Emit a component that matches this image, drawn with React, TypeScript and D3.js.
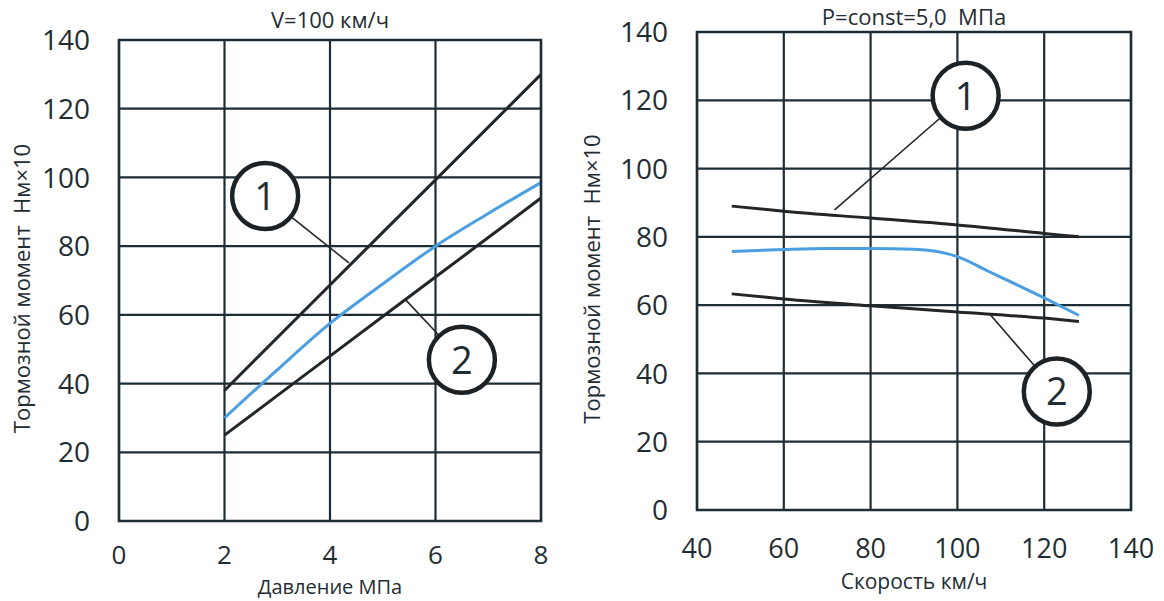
import * as d3 from 'd3';
import React from 'react';

// left panel: torque vs pressure at V=100 km/h
const pressureTicks = [0, 2, 4, 6, 8];
const pressureLine = [2, 4, 6, 8];
const leftCurve1 = [38, 68.7, 99.3, 130];
const leftCurve2 = [25, 48, 71, 94];
const pressureBlue = [2, 3, 4, 5, 6, 7, 8];
const leftBlue = [30, 44, 57.5, 69, 80, 89.5, 98.5];

// right panel: torque vs speed at P=5.0 MPa
const speedTicks = [40, 60, 80, 100, 120, 140];
const speedLine = [48, 60, 80, 100, 120, 128];
const rightCurve1 = [89, 87.5, 85.5, 83.5, 81, 80];
const rightCurve2 = [63.3, 61.8, 59.8, 58, 56.2, 55.2];
const speedBlue = [48, 60, 70, 80, 90, 95, 100, 107, 114, 120, 128];
const rightBlue = [75.7, 76.3, 76.6, 76.6, 76.4, 75.8, 74.2, 70, 65.8, 62.1, 57];

const torqueTicks = [0, 20, 40, 60, 80, 100, 120, 140];

// callouts: [label, circle x, circle y, target x, target y] in data units
const leftCallouts: [string, number, number, number, number][] = [
  ['1', 2.77, 94.6, 4.36, 75.1],
  ['2', 6.5, 46.9, 5.44, 64.3],
];
const rightCallouts: [string, number, number, number, number][] = [
  ['1', 101.9, 121.3, 71.7, 87.9],
  ['2', 122.9, 34.7, 107.3, 57.6],
];

const FONT = "'Open Sans', sans-serif";
const GRID = '#1e2d35';
const TEXT = '#1f2d33';
const BLUE = '#4b9fe1';

type PanelProps = {
  xTicks: number[];
  xDomain: [number, number];
  xRange: [number, number];
  yRange: [number, number];
  title: string;
  titleY: number;
  xTitle: string;
  xTitleY: number;
  xTitleSize: number;
  tickOffset: number;
  tickSize: number;
  yTitleX: number;
  black: { x: number[]; y: number[] }[];
  blue: { x: number[]; y: number[] };
  callouts: [string, number, number, number, number][];
};

function Panel(p: PanelProps) {
  const x = d3.scaleLinear().domain(p.xDomain).range(p.xRange);
  const y = d3.scaleLinear().domain([0, 140]).range(p.yRange);
  const [x0, x1] = p.xRange;
  const [yb, yt] = p.yRange;
  const mk = (xs: number[], ys: number[]) =>
    d3.line<number>()
      .x((_, i) => x(xs[i]))
      .y((d) => y(d))
      .curve(d3.curveMonotoneX)(ys) || '';
  const cx = (x0 + x1) / 2;
  const r = 33;

  return (
    <g>
      {/* grid */}
      {p.xTicks.map((t) => (
        <line key={'v' + t} x1={x(t)} x2={x(t)} y1={yt} y2={yb} stroke={GRID} strokeWidth={2.2} />
      ))}
      {torqueTicks.map((t) => (
        <line key={'h' + t} x1={x0} x2={x1} y1={y(t)} y2={y(t)} stroke={GRID} strokeWidth={2.2} />
      ))}
      {/* tick labels */}
      {torqueTicks.map((t) => (
        <text key={'yl' + t} x={x0 - 29} y={y(t)} dy="0.36em" textAnchor="end" fontSize={28} fill={TEXT} fontFamily={FONT}>
          {t}
        </text>
      ))}
      {p.xTicks.map((t) => (
        <text key={'xl' + t} x={x(t)} y={yb + p.tickOffset} textAnchor="middle" fontSize={p.tickSize} fill={TEXT} fontFamily={FONT}>
          {t}
        </text>
      ))}
      {/* titles */}
      <text x={cx} y={p.titleY} textAnchor="middle" fontSize={22} fill={TEXT} fontFamily={FONT} style={{ whiteSpace: 'pre' }}>
        {p.title}
      </text>
      <text x={cx} y={p.xTitleY} textAnchor="middle" fontSize={p.xTitleSize} fill={TEXT} fontFamily={FONT}>{p.xTitle}</text>
      <text
        transform={`translate(${p.yTitleX},${(yb + yt) / 2 + 8}) rotate(-90)`}
        textAnchor="middle" dy="0.35em" fontSize={22} fill={TEXT} fontFamily={FONT} style={{ whiteSpace: 'pre' }}
      >
        {'Тормозной момент  Нм×10'}
      </text>
      {/* curves */}
      {p.black.map((c, i) => (
        <path key={'b' + i} d={mk(c.x, c.y)} fill="none" stroke="#222628" strokeWidth={3} />
      ))}
      <path d={mk(p.blue.x, p.blue.y)} fill="none" stroke={BLUE} strokeWidth={3} />
      {/* callouts */}
      {p.callouts.map(([label, ccx, ccy, tx, ty]) => {
        const px = x(ccx), py = y(ccy), qx = x(tx), qy = y(ty);
        const len = Math.hypot(qx - px, qy - py);
        const sx = px + ((qx - px) / len) * r;
        const sy = py + ((qy - py) / len) * r;
        return (
          <g key={'c' + label}>
            <line x1={sx} y1={sy} x2={qx} y2={qy} stroke="#222628" strokeWidth={1.6} />
            <circle cx={px} cy={py} r={r} fill="white" stroke="#1c2226" strokeWidth={4.5} />
            <text x={px} y={py} dy="0.36em" textAnchor="middle" fontSize={38} fill={TEXT} fontFamily={FONT}>{label}</text>
          </g>
        );
      })}
      {/* frame */}
      <rect x={x0} y={yt} width={x1 - x0} height={yb - yt} fill="none" stroke={GRID} strokeWidth={2.5} />
    </g>
  );
}

export default function App() {
  return (
    <div style={{ position: 'absolute', left: 0, top: 0, background: 'white' }}>
      <svg width={1164} height={601} viewBox="0 0 1164 601">
        <rect width={1164} height={601} fill="white" />
        <Panel
          xTicks={pressureTicks}
          xDomain={[0, 8]}
          xRange={[119, 541]}
          yRange={[521, 40]}
          title="V=100 км/ч"
          titleY={28}
          xTitle="Давление МПа"
          xTitleY={594}
          xTitleSize={20}
          tickOffset={43}
          tickSize={26}
          yTitleX={22}
          black={[{ x: pressureLine, y: leftCurve1 }, { x: pressureLine, y: leftCurve2 }]}
          blue={{ x: pressureBlue, y: leftBlue }}
          callouts={leftCallouts}
        />
        <Panel
          xTicks={speedTicks}
          xDomain={[40, 140]}
          xRange={[697, 1131]}
          yRange={[510, 32]}
          title={'P=const=5,0  МПа'}
          titleY={25}
          xTitle="Скорость км/ч"
          xTitleY={589}
          xTitleSize={21}
          tickOffset={48}
          tickSize={27}
          yTitleX={592}
          black={[{ x: speedLine, y: rightCurve1 }, { x: speedLine, y: rightCurve2 }]}
          blue={{ x: speedBlue, y: rightBlue }}
          callouts={rightCallouts}
        />
      </svg>
    </div>
  );
}
